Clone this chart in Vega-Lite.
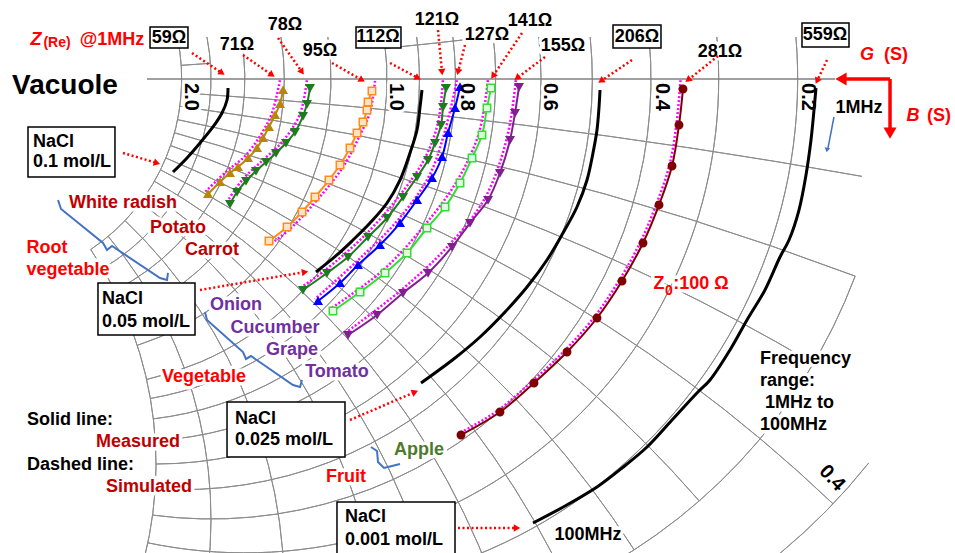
{
"$schema":"https://vega.github.io/schema/vega-lite/v6.json",
"width":955,"height":553,"autosize":{"type":"none"},"padding":0,"background":"white",
"config":{"view":{"stroke":null}},
"resolve":{"scale":{"color":"independent","fill":"independent","stroke":"independent","shape":"independent"}},
"encoding":{
 "x":{"field":"x","type":"quantitative","scale":{"domain":[-0.628247,0.922078],"nice":false,"zero":false},"axis":null},
 "y":{"field":"y","type":"quantitative","scale":{"domain":[-0.769481,0.128247],"nice":false,"zero":false},"axis":null}
},
"datasets":{
 "grid":[
  {"x":-0.090909,"y":0,"r":0.909091,"t1":110.61,"t2":200.98},
  {"x":-0.166667,"y":0,"r":0.833333,"t1":85.31,"t2":196.26},
  {"x":-0.230769,"y":0,"r":0.769231,"t1":84.91,"t2":191.82},
  {"x":-0.285714,"y":0,"r":0.714286,"t1":84.52,"t2":187.63},
  {"x":-0.333333,"y":0,"r":0.666667,"t1":84.13,"t2":183.70},
  {"x":-0.375,"y":0,"r":0.625,"t1":83.74,"t2":180.00},
  {"x":-0.411765,"y":0,"r":0.588235,"t1":83.34,"t2":176.52},
  {"x":-0.444444,"y":0,"r":0.555556,"t1":82.95,"t2":173.27},
  {"x":-0.473684,"y":0,"r":0.526316,"t1":82.55,"t2":170.19},
  {"x":-0.5,"y":0,"r":0.5,"t1":82.16,"t2":167.32},
  {"x":-0.545455,"y":0,"r":0.454545,"t1":81.37,"t2":162.06},
  {"x":-0.583333,"y":0,"r":0.416667,"t1":80.58,"t2":157.38},
  {"x":-0.615385,"y":0,"r":0.384615,"t1":79.79,"t2":153.22},
  {"x":-0.642857,"y":0,"r":0.357143,"t1":78.99,"t2":149.49},
  {"x":-0.666667,"y":0,"r":0.333333,"t1":78.19,"t2":146.13},
  {"x":-1,"y":-10,"r":10,"t1":3.82,"t2":10.20},
  {"x":-1,"y":-5,"r":5,"t1":7.63,"t2":20.61},
  {"x":-1,"y":-3.333333,"r":3.333333,"t1":11.42,"t2":30.51},
  {"x":-1,"y":-2.5,"r":2.5,"t1":15.19,"t2":43.60},
  {"x":-1,"y":-2,"r":2,"t1":18.92,"t2":48.88},
  {"x":-1,"y":-1.666667,"r":1.666667,"t1":22.62,"t2":57.22},
  {"x":-1,"y":-1.428571,"r":1.428571,"t1":26.27,"t2":64.94},
  {"x":-1,"y":-1.25,"r":1.25,"t1":29.86,"t2":72.06},
  {"x":-1,"y":-1.111111,"r":1.111111,"t1":33.40,"t2":78.58},
  {"x":-1,"y":-1,"r":1,"t1":36.87,"t2":84.56},
  {"x":-1,"y":-0.833333,"r":0.833333,"t1":43.60,"t2":94.98},
  {"x":-1,"y":-0.714286,"r":0.714286,"t1":50.04,"t2":103.67},
  {"x":-1,"y":-0.625,"r":0.625,"t1":56.14,"t2":110.98},
  {"x":0,"y":0,"r":1,"t1":128.58,"t2":140.35},
  {"x":-1,"y":10,"r":10,"t1":175.91,"t2":176.18},
  {"x":-1,"y":10,"r":10,"t1":173.27,"t2":174.28}
 ],
 "nacl":[
  {"s":"N1","x":-0.2581,"y":-0.0146},{"s":"N1","x":-0.2597,"y":-0.0341},{"s":"N1","x":-0.2679,"y":-0.0552},{"s":"N1","x":-0.2825,"y":-0.0779},{"s":"N1","x":-0.3036,"y":-0.1039},{"s":"N1","x":-0.3247,"y":-0.1282},{"s":"N1","x":-0.3474,"y":-0.1510},
  {"s":"N2","x":0.0568,"y":-0.0179},{"s":"N2","x":0.0536,"y":-0.0455},{"s":"N2","x":0.0487,"y":-0.0828},{"s":"N2","x":0.0373,"y":-0.1201},{"s":"N2","x":0.0211,"y":-0.1640},{"s":"N2","x":0.0,"y":-0.2013},{"s":"N2","x":-0.0276,"y":-0.2338},{"s":"N2","x":-0.0552,"y":-0.2614},{"s":"N2","x":-0.0812,"y":-0.2857},{"s":"N2","x":-0.1153,"y":-0.3133},
  {"s":"N3","x":0.3458,"y":-0.0179},{"s":"N3","x":0.3442,"y":-0.0455},{"s":"N3","x":0.3409,"y":-0.0828},{"s":"N3","x":0.3344,"y":-0.1201},{"s":"N3","x":0.3247,"y":-0.1640},{"s":"N3","x":0.3084,"y":-0.2078},{"s":"N3","x":0.2857,"y":-0.2500},{"s":"N3","x":0.2597,"y":-0.2938},{"s":"N3","x":0.2273,"y":-0.3377},{"s":"N3","x":0.1916,"y":-0.3782},{"s":"N3","x":0.1510,"y":-0.4188},{"s":"N3","x":0.1104,"y":-0.4529},{"s":"N3","x":0.0552,"y":-0.4935},
  {"s":"N4","x":0.6964,"y":-0.0146},{"s":"N4","x":0.6932,"y":-0.0503},{"s":"N4","x":0.6883,"y":-0.0990},{"s":"N4","x":0.6802,"y":-0.1558},{"s":"N4","x":0.6688,"y":-0.2127},{"s":"N4","x":0.6526,"y":-0.2614},{"s":"N4","x":0.6380,"y":-0.2890},{"s":"N4","x":0.6136,"y":-0.3425},{"s":"N4","x":0.5844,"y":-0.3912},{"s":"N4","x":0.5568,"y":-0.4399},{"s":"N4","x":0.5244,"y":-0.4886},{"s":"N4","x":0.5032,"y":-0.5097},{"s":"N4","x":0.4627,"y":-0.5536},{"s":"N4","x":0.4221,"y":-0.5974},{"s":"N4","x":0.3815,"y":-0.6315},{"s":"N4","x":0.3409,"y":-0.6623},{"s":"N4","x":0.2890,"y":-0.6932},{"s":"N4","x":0.2370,"y":-0.7208}
 ],
 "meas":[
  {"s":"WR","x":-0.1688,"y":-0.0179},{"s":"WR","x":-0.1737,"y":-0.0406},{"s":"WR","x":-0.1818,"y":-0.0584},{"s":"WR","x":-0.1916,"y":-0.0779},{"s":"WR","x":-0.2013,"y":-0.0958},{"s":"WR","x":-0.2110,"y":-0.1120},{"s":"WR","x":-0.2256,"y":-0.1282},{"s":"WR","x":-0.2419,"y":-0.1429},{"s":"WR","x":-0.2549,"y":-0.1526},{"s":"WR","x":-0.2711,"y":-0.1672},{"s":"WR","x":-0.2906,"y":-0.1867},
  {"s":"PO","x":-0.1250,"y":-0.0146},{"s":"PO","x":-0.1299,"y":-0.0406},{"s":"PO","x":-0.1364,"y":-0.0601},{"s":"PO","x":-0.1494,"y":-0.0860},{"s":"PO","x":-0.1640,"y":-0.1039},{"s":"PO","x":-0.1802,"y":-0.1201},{"s":"PO","x":-0.1964,"y":-0.1347},{"s":"PO","x":-0.2127,"y":-0.1494},{"s":"PO","x":-0.2289,"y":-0.1656},{"s":"PO","x":-0.2435,"y":-0.1834},{"s":"PO","x":-0.2549,"y":-0.2029},
  {"s":"CA","x":-0.0244,"y":-0.0195},{"s":"CA","x":-0.0308,"y":-0.0373},{"s":"CA","x":-0.0325,"y":-0.0503},{"s":"CA","x":-0.0390,"y":-0.0698},{"s":"CA","x":-0.0487,"y":-0.0877},{"s":"CA","x":-0.0601,"y":-0.1120},{"s":"CA","x":-0.0763,"y":-0.1396},{"s":"CA","x":-0.0942,"y":-0.1640},{"s":"CA","x":-0.1169,"y":-0.1916},{"s":"CA","x":-0.1380,"y":-0.2159},{"s":"CA","x":-0.1623,"y":-0.2403},{"s":"CA","x":-0.1916,"y":-0.2630},
  {"s":"ON","x":0.0958,"y":-0.0146},{"s":"ON","x":0.0909,"y":-0.0455},{"s":"ON","x":0.0877,"y":-0.0747},{"s":"ON","x":0.0779,"y":-0.1039},{"s":"ON","x":0.0666,"y":-0.1315},{"s":"ON","x":0.0487,"y":-0.1591},{"s":"ON","x":0.0260,"y":-0.1916},{"s":"ON","x":0.0,"y":-0.2256},{"s":"ON","x":-0.0308,"y":-0.2565},{"s":"ON","x":-0.0633,"y":-0.2890},{"s":"ON","x":-0.0974,"y":-0.3149},{"s":"ON","x":-0.1364,"y":-0.3425},
  {"s":"CU","x":0.1185,"y":-0.0130},{"s":"CU","x":0.1104,"y":-0.0471},{"s":"CU","x":0.0990,"y":-0.0877},{"s":"CU","x":0.0893,"y":-0.1266},{"s":"CU","x":0.0731,"y":-0.1607},{"s":"CU","x":0.0487,"y":-0.1964},{"s":"CU","x":0.0211,"y":-0.2338},{"s":"CU","x":-0.0114,"y":-0.2695},{"s":"CU","x":-0.0471,"y":-0.3019},{"s":"CU","x":-0.0763,"y":-0.3312},{"s":"CU","x":-0.1120,"y":-0.3604},
  {"s":"GR","x":0.1688,"y":-0.0146},{"s":"GR","x":0.1623,"y":-0.0471},{"s":"GR","x":0.1542,"y":-0.0909},{"s":"GR","x":0.1380,"y":-0.1282},{"s":"GR","x":0.1185,"y":-0.1688},{"s":"GR","x":0.0942,"y":-0.2078},{"s":"GR","x":0.0649,"y":-0.2419},{"s":"GR","x":0.0325,"y":-0.2825},{"s":"GR","x":-0.0032,"y":-0.3149},{"s":"GR","x":-0.0438,"y":-0.3458},{"s":"GR","x":-0.0877,"y":-0.3766},
  {"s":"TO","x":0.2143,"y":-0.0130},{"s":"TO","x":0.2078,"y":-0.0552},{"s":"TO","x":0.1997,"y":-0.0990},{"s":"TO","x":0.1834,"y":-0.1526},{"s":"TO","x":0.1640,"y":-0.1964},{"s":"TO","x":0.1347,"y":-0.2338},{"s":"TO","x":0.1055,"y":-0.2727},{"s":"TO","x":0.0666,"y":-0.3149},{"s":"TO","x":0.0260,"y":-0.3474},{"s":"TO","x":-0.0162,"y":-0.3831},{"s":"TO","x":-0.0633,"y":-0.4156},
  {"s":"AP","x":0.4805,"y":-0.0162},{"s":"AP","x":0.4740,"y":-0.0747},{"s":"AP","x":0.4627,"y":-0.1412},{"s":"AP","x":0.4416,"y":-0.2045},{"s":"AP","x":0.4156,"y":-0.2662},{"s":"AP","x":0.3815,"y":-0.3279},{"s":"AP","x":0.3409,"y":-0.3880},{"s":"AP","x":0.2922,"y":-0.4432},{"s":"AP","x":0.2386,"y":-0.4935},{"s":"AP","x":0.1834,"y":-0.5406},{"s":"AP","x":0.1201,"y":-0.5779}
 ],
 "sim":[
  {"s":"WR","x":-0.1738,"y":-0.0020},{"s":"WR","x":-0.1868,"y":-0.0554},{"s":"WR","x":-0.2063,"y":-0.0928},{"s":"WR","x":-0.2306,"y":-0.1252},{"s":"WR","x":-0.2599,"y":-0.1496},{"s":"WR","x":-0.2956,"y":-0.1837},
  {"s":"PO","x":-0.1300,"y":-0.0020},{"s":"PO","x":-0.1414,"y":-0.0571},{"s":"PO","x":-0.1690,"y":-0.1009},{"s":"PO","x":-0.2014,"y":-0.1317},{"s":"PO","x":-0.2339,"y":-0.1626},{"s":"PO","x":-0.2599,"y":-0.1999},
  {"s":"CA","x":-0.0194,"y":-0.0030},{"s":"CA","x":-0.0275,"y":-0.0533},{"s":"CA","x":-0.0437,"y":-0.0907},{"s":"CA","x":-0.0713,"y":-0.1426},{"s":"CA","x":-0.1119,"y":-0.1946},{"s":"CA","x":-0.1573,"y":-0.2433},{"s":"CA","x":-0.1866,"y":-0.2660},
  {"s":"ON","x":0.0908,"y":-0.0020},{"s":"ON","x":0.0827,"y":-0.0717},{"s":"ON","x":0.0616,"y":-0.1285},{"s":"ON","x":0.0210,"y":-0.1886},{"s":"ON","x":-0.0358,"y":-0.2535},{"s":"ON","x":-0.1024,"y":-0.3119},{"s":"ON","x":-0.1414,"y":-0.3395},
  {"s":"CU","x":0.1135,"y":-0.0020},{"s":"CU","x":0.0940,"y":-0.0847},{"s":"CU","x":0.0681,"y":-0.1577},{"s":"CU","x":0.0161,"y":-0.2308},{"s":"CU","x":-0.0521,"y":-0.2989},{"s":"CU","x":-0.1170,"y":-0.3574},
  {"s":"GR","x":0.1638,"y":-0.0020},{"s":"GR","x":0.1492,"y":-0.0879},{"s":"GR","x":0.1135,"y":-0.1658},{"s":"GR","x":0.0599,"y":-0.2389},{"s":"GR","x":-0.0082,"y":-0.3119},{"s":"GR","x":-0.0927,"y":-0.3736},
  {"s":"TO","x":0.2093,"y":-0.0020},{"s":"TO","x":0.1947,"y":-0.0960},{"s":"TO","x":0.1590,"y":-0.1934},{"s":"TO","x":0.1005,"y":-0.2697},{"s":"TO","x":0.0210,"y":-0.3444},{"s":"TO","x":-0.0683,"y":-0.4126},
  {"s":"AP","x":0.4765,"y":-0.0020},{"s":"AP","x":0.4700,"y":-0.0727},{"s":"AP","x":0.4587,"y":-0.1392},{"s":"AP","x":0.4376,"y":-0.2025},{"s":"AP","x":0.4116,"y":-0.2642},{"s":"AP","x":0.3775,"y":-0.3259},{"s":"AP","x":0.3369,"y":-0.3860},{"s":"AP","x":0.2882,"y":-0.4412},{"s":"AP","x":0.2346,"y":-0.4915},{"s":"AP","x":0.1794,"y":-0.5386},{"s":"AP","x":0.1161,"y":-0.5759}
 ],
 "lab":[
  {"t":"59Ω","x":-0.3539,"y":0.0666,"c":"k"},{"t":"71Ω","x":-0.2435,"y":0.0552,"c":"k"},{"t":"78Ω","x":-0.1656,"y":0.0877,"c":"k"},{"t":"95Ω","x":-0.1088,"y":0.0455,"c":"k"},{"t":"112Ω","x":-0.0146,"y":0.0682,"c":"k"},{"t":"121Ω","x":0.0812,"y":0.0958,"c":"k"},{"t":"127Ω","x":0.1623,"y":0.0714,"c":"k"},{"t":"141Ω","x":0.2321,"y":0.0942,"c":"k"},{"t":"155Ω","x":0.2857,"y":0.0536,"c":"k"},{"t":"206Ω","x":0.4058,"y":0.0682,"c":"k"},{"t":"281Ω","x":0.5406,"y":0.0438,"c":"k"},{"t":"559Ω","x":0.7110,"y":0.0714,"c":"k"},{"t":"1MHz","x":0.7662,"y":-0.0471,"c":"k"},{"t":"100MHz","x":0.3263,"y":-0.7403,"c":"k"},
  {"t":"White radish","x":-0.4286,"y":-0.2013,"c":"dr"},{"t":"Potato","x":-0.3393,"y":-0.2419,"c":"dr"},{"t":"Carrot","x":-0.2841,"y":-0.2776,"c":"dr"},{"t":"Measured","x":-0.4042,"y":-0.5893,"c":"dr"},{"t":"Simulated","x":-0.3864,"y":-0.6623,"c":"dr"},
  {"t":"Root","x":-0.5519,"y":-0.2744,"c":"r"},{"t":"vegetable","x":-0.5179,"y":-0.3101,"c":"r"},{"t":"Vegetable","x":-0.2971,"y":-0.4838,"c":"r"},{"t":"Fruit","x":-0.0666,"y":-0.6461,"c":"r"},{"t":"@1MHz","x":-0.4464,"y":0.0633,"c":"r"},{"t":"(S)","x":0.8263,"y":0.0390,"c":"r"},{"t":"(S)","x":0.8961,"y":-0.0601,"c":"r"},{"t":"Z","x":0.4416,"y":-0.3328,"c":"r"},{"t":":100 Ω","x":0.5098,"y":-0.3328,"c":"r"},
  {"t":"Onion","x":-0.2451,"y":-0.3669,"c":"p"},{"t":"Cucumber","x":-0.1818,"y":-0.4042,"c":"p"},{"t":"Grape","x":-0.1542,"y":-0.4399,"c":"p"},{"t":"Tomato","x":-0.0812,"y":-0.4756,"c":"p"},
  {"t":"Apple","x":0.0519,"y":-0.6023,"c":"g"}
 ],
 "left":[
  {"t":"NaCl","x":-0.5747,"y":-0.1023},{"t":"0.1 mol/L","x":-0.5747,"y":-0.1347},
  {"t":"NaCl","x":-0.4627,"y":-0.3571},{"t":"0.05 mol/L","x":-0.4627,"y":-0.3945},
  {"t":"NaCl","x":-0.2468,"y":-0.5519},{"t":"0.025 mol/L","x":-0.2468,"y":-0.5860},
  {"t":"NaCl","x":-0.0682,"y":-0.7110},{"t":"0.001 mol/L","x":-0.0682,"y":-0.7484},
  {"t":"Solid line:","x":-0.5844,"y":-0.5536},{"t":"Dashed line:","x":-0.5844,"y":-0.6266},
  {"t":"Frequency","x":0.6055,"y":-0.4545},{"t":"range:","x":0.6055,"y":-0.4903},{"t":"1MHz to","x":0.6136,"y":-0.5260},{"t":"100MHz","x":0.6055,"y":-0.5617}
 ],
 "ital":[{"t":"Z","x":-0.5698,"y":0.0633},{"t":"G","x":0.7792,"y":0.0390},{"t":"B","x":0.8539,"y":-0.0601}],
 "small":[{"t":"(Re)","x":-0.5357,"y":0.0584},{"t":"0","x":0.4578,"y":-0.3442}],
 "vac":[{"t":"Vacuole","x":-0.5227,"y":-0.0114}],
 "rot":[{"t":"2.0","x":-0.3182,"y":-0.0065},{"t":"1.0","x":0.0146,"y":-0.0065},{"t":"0.8","x":0.1299,"y":-0.0065},{"t":"0.6","x":0.2646,"y":-0.0065},{"t":"0.4","x":0.4464,"y":-0.0065},{"t":"0.2","x":0.6834,"y":-0.0065}],
 "rot2":[{"t":"0.4","x":0.7224,"y":-0.6477}],
 "boxes":[
  {"x":-0.3847,"x2":-0.3231,"y":0.0844,"y2":0.0503},
  {"x":-0.0503,"x2":0.0227,"y":0.0844,"y2":0.0503},
  {"x":0.3669,"x2":0.4448,"y":0.0877,"y2":0.0503},
  {"x":0.6737,"x2":0.7500,"y":0.0909,"y2":0.0519},
  {"x":-0.5828,"x2":-0.4416,"y":-0.0779,"y2":-0.1591},
  {"x":-0.4692,"x2":-0.3117,"y":-0.3312,"y2":-0.4156},
  {"x":-0.2597,"x2":-0.0682,"y":-0.5244,"y2":-0.6136},
  {"x":-0.0812,"x2":0.1104,"y":-0.6867,"y2":-0.7808}
 ],
 "arrows":[
  {"x":-0.3166,"y":0.0422,"x2":-0.2679,"y2":0.0097},
  {"x":-0.2338,"y":0.0390,"x2":-0.1867,"y2":0.0065},
  {"x":-0.1769,"y":0.0666,"x2":-0.1380,"y2":0.0114},
  {"x":-0.0893,"y":0.0260,"x2":-0.0406,"y2":-0.0016},
  {"x":0.0049,"y":0.0260,"x2":0.0503,"y2":0.0016},
  {"x":0.0828,"y":0.0795,"x2":0.0893,"y2":0.0114},
  {"x":0.1266,"y":0.0552,"x2":0.1153,"y2":0.0114},
  {"x":0.2192,"y":0.0747,"x2":0.1721,"y2":0.0049},
  {"x":0.2565,"y":0.0357,"x2":0.2110,"y2":0.0016},
  {"x":0.3977,"y":0.0308,"x2":0.3474,"y2":-0.0032},
  {"x":0.5373,"y":0.0373,"x2":0.4886,"y2":-0.0016},
  {"x":0.7143,"y":0.0308,"x2":0.6981,"y2":-0.0032},
  {"x":-0.4286,"y":-0.1201,"x2":-0.3734,"y2":-0.1364},
  {"x":-0.3036,"y":-0.3425,"x2":-0.1331,"y2":-0.3133},
  {"x":-0.0601,"y":-0.5536,"x2":0.0455,"y2":-0.5081},
  {"x":0.1153,"y":-0.7289,"x2":0.2110,"y2":-0.7289}
 ],
 "heads":[
  {"x":-0.2679,"y":0.0097,"a":123.7},{"x":-0.1867,"y":0.0065,"a":124.6},{"x":-0.1380,"y":0.0114,"a":144.8},{"x":-0.0406,"y":-0.0016,"a":119.5},{"x":0.0503,"y":0.0016,"a":118.2},{"x":0.0893,"y":0.0114,"a":174.6},{"x":0.1153,"y":0.0114,"a":194.0},{"x":0.1721,"y":0.0049,"a":214.0},{"x":0.2110,"y":0.0016,"a":233.1},{"x":0.3474,"y":-0.0032,"a":235.9},{"x":0.4886,"y":-0.0016,"a":231.3},{"x":0.6981,"y":-0.0032,"a":205.5},{"x":-0.3734,"y":-0.1364,"a":106.4},{"x":-0.1331,"y":-0.3133,"a":80.3},{"x":0.0455,"y":-0.5081,"a":66.7},{"x":0.2110,"y":-0.7289,"a":90}
 ],
 "braces":[
  {"b":1,"x":-0.5341,"y":-0.1964},{"b":1,"x":-0.5292,"y":-0.2110},{"b":1,"x":-0.4610,"y":-0.2662},{"b":1,"x":-0.4545,"y":-0.2776},{"b":1,"x":-0.4464,"y":-0.2711},{"b":1,"x":-0.3685,"y":-0.3231},{"b":1,"x":-0.3571,"y":-0.3263},{"b":1,"x":-0.3555,"y":-0.3149},
  {"b":2,"x":-0.2955,"y":-0.3782},{"b":2,"x":-0.2922,"y":-0.3912},{"b":2,"x":-0.2338,"y":-0.4432},{"b":2,"x":-0.2289,"y":-0.4545},{"b":2,"x":-0.2208,"y":-0.4497},{"b":2,"x":-0.1526,"y":-0.4968},{"b":2,"x":-0.1412,"y":-0.5000},{"b":2,"x":-0.1380,"y":-0.4886},
  {"b":3,"x":-0.0260,"y":-0.5974},{"b":3,"x":-0.0162,"y":-0.6039},{"b":3,"x":-0.0146,"y":-0.6218},{"b":3,"x":-0.0049,"y":-0.6315},{"b":3,"x":0.0081,"y":-0.6282},{"b":3,"x":0.0211,"y":-0.6250}
 ]
},
"layer":[
 {"data":{"name":"grid"},"mark":{"type":"arc","filled":false,"stroke":"#8c8c8c","strokeWidth":1,"clip":true},
  "encoding":{
   "radius":{"field":"r","type":"quantitative","scale":{"type":"linear","domain":[0,1],"range":[0,616],"zero":true}},
   "radius2":{"field":"r"},
   "theta":{"field":"t1","type":"quantitative","stack":null,"scale":{"type":"linear","domain":[0,360],"range":[0,6.283185307]}},
   "theta2":{"field":"t2"}}},
 {"data":{"values":[{"x":-0.3896,"y":0,"x2":0.7273}]},"mark":{"type":"rule","stroke":"#808080","strokeWidth":1.5},"encoding":{"x2":{"field":"x2"}}},
 {"data":{"name":"lab"},"mark":{"type":"text","font":"Liberation Sans","fontWeight":"bold","fontSize":18,"align":"center","baseline":"middle","fill":"white","stroke":"white","strokeWidth":7,"strokeJoin":"round"},"encoding":{"text":{"field":"t"}}},
 {"data":{"name":"left"},"mark":{"type":"text","font":"Liberation Sans","fontWeight":"bold","fontSize":18,"align":"left","baseline":"middle","fill":"white","stroke":"white","strokeWidth":7,"strokeJoin":"round"},"encoding":{"text":{"field":"t"}}},
 {"data":{"name":"rot"},"mark":{"type":"text","font":"Liberation Sans","fontWeight":"bold","fontSize":20,"angle":90,"align":"left","baseline":"middle","fill":"white","stroke":"white","strokeWidth":6,"strokeJoin":"round"},"encoding":{"text":{"field":"t"}}},
 {"data":{"name":"rot2"},"mark":{"type":"text","font":"Liberation Sans","fontWeight":"bold","fontSize":20,"angle":47,"align":"center","baseline":"middle","fill":"white","stroke":"white","strokeWidth":6,"strokeJoin":"round"},"encoding":{"text":{"field":"t"}}},
 {"data":{"name":"vac"},"mark":{"type":"text","font":"Liberation Sans","fontWeight":"bold","fontSize":28,"align":"center","baseline":"middle","fill":"white","stroke":"white","strokeWidth":7,"strokeJoin":"round"},"encoding":{"text":{"field":"t"}}},
 {"data":{"name":"boxes"},"mark":{"type":"rect","fill":"white","stroke":"black","strokeWidth":1.5,"clip":true},"encoding":{"x2":{"field":"x2"},"y2":{"field":"y2"}}},
 {"data":{"name":"sim"},"mark":{"type":"line","color":"#FF00FF","strokeWidth":2.5,"strokeDash":[2,2],"interpolate":"catmull-rom"},"encoding":{"detail":{"field":"s"},"order":{"value":null}}},
 {"data":{"name":"nacl"},"mark":{"type":"line","color":"#000000","strokeWidth":3,"interpolate":"catmull-rom"},"encoding":{"detail":{"field":"s"},"order":{"value":null}}},
 {"data":{"name":"meas"},"mark":{"type":"line","strokeWidth":2,"interpolate":"catmull-rom"},
  "encoding":{"color":{"field":"s","type":"nominal","legend":null,"scale":{"domain":["WR","PO","CA","ON","CU","GR","TO","AP"],"range":["#B8860B","#1E7B1E","#FF8C1A","#1E7B1E","#0000FF","#33DD33","#80208F","#7F0000"]}},"order":{"value":null}}},
 {"data":{"name":"meas"},"mark":{"type":"point","filled":true,"size":55,"strokeWidth":1.5,"opacity":1},
  "encoding":{
   "shape":{"field":"s","type":"nominal","legend":null,"scale":{"domain":["WR","PO","CA","ON","CU","GR","TO","AP"],"range":["triangle-up","triangle-down","square","triangle-down","triangle-up","square","triangle-down","circle"]}},
   "fill":{"field":"s","type":"nominal","legend":null,"scale":{"domain":["WR","PO","CA","ON","CU","GR","TO","AP"],"range":["#B8860B","#1E7B1E","#FFE4C4","#1E7B1E","#0000FF","#DDFFDD","#80208F","#7F0000"]}},
   "stroke":{"field":"s","type":"nominal","legend":null,"scale":{"domain":["WR","PO","CA","ON","CU","GR","TO","AP"],"range":["#B8860B","#1E7B1E","#FF8C1A","#1E7B1E","#0000FF","#33DD33","#80208F","#7F0000"]}}}},
 {"data":{"name":"braces"},"mark":{"type":"line","color":"#4472C4","strokeWidth":2},"encoding":{"detail":{"field":"b"},"order":{"value":null}}},
 {"data":{"name":"arrows"},"mark":{"type":"rule","color":"#FF0000","strokeWidth":2.5,"strokeDash":[2,2.5]},"encoding":{"x2":{"field":"x2"},"y2":{"field":"y2"}}},
 {"data":{"name":"heads"},"mark":{"type":"point","shape":"triangle-up","filled":true,"color":"#FF0000","size":55,"opacity":1},"encoding":{"angle":{"field":"a","type":"quantitative","scale":null}}},
 {"data":{"values":[{"x":0.8166,"y":0,"x2":0.7370,"y2":0},{"x":0.8166,"y":0,"x2":0.8166,"y2":-0.0877}]},"mark":{"type":"rule","color":"#FF0000","strokeWidth":3.5},"encoding":{"x2":{"field":"x2"},"y2":{"field":"y2"}}},
 {"data":{"values":[{"x":0.7370,"y":0,"a":270},{"x":0.8166,"y":-0.0877,"a":180}]},"mark":{"type":"point","shape":"triangle-up","filled":true,"color":"#FF0000","size":170,"opacity":1},"encoding":{"angle":{"field":"a","type":"quantitative","scale":null}}},
 {"data":{"values":[{"x":0.7256,"y":-0.0617,"x2":0.7159,"y2":-0.1120}]},"mark":{"type":"rule","color":"#4472C4","strokeWidth":1.5},"encoding":{"x2":{"field":"x2"},"y2":{"field":"y2"}}},
 {"data":{"values":[{"x":0.7143,"y":-0.1153,"a":191}]},"mark":{"type":"point","shape":"triangle-up","filled":true,"color":"#4472C4","size":30,"opacity":1},"encoding":{"angle":{"field":"a","type":"quantitative","scale":null}}},
 {"data":{"name":"lab"},"mark":{"type":"text","font":"Liberation Sans","fontWeight":"bold","fontSize":18,"align":"center","baseline":"middle"},
  "encoding":{"text":{"field":"t"},"color":{"field":"c","type":"nominal","legend":null,"scale":{"domain":["k","dr","r","p","g"],"range":["#000000","#C00000","#FF0000","#7030A0","#4E7A2C"]}}}},
 {"data":{"name":"left"},"mark":{"type":"text","font":"Liberation Sans","fontWeight":"bold","fontSize":18,"align":"left","baseline":"middle","color":"#000000"},"encoding":{"text":{"field":"t"}}},
 {"data":{"name":"ital"},"mark":{"type":"text","font":"Liberation Sans","fontWeight":"bold","fontStyle":"italic","fontSize":18,"align":"center","baseline":"middle","color":"#FF0000"},"encoding":{"text":{"field":"t"}}},
 {"data":{"name":"small"},"mark":{"type":"text","font":"Liberation Sans","fontWeight":"bold","fontSize":14,"align":"center","baseline":"middle","color":"#FF0000"},"encoding":{"text":{"field":"t"}}},
 {"data":{"name":"vac"},"mark":{"type":"text","font":"Liberation Sans","fontWeight":"bold","fontSize":28,"align":"center","baseline":"middle","color":"#000000"},"encoding":{"text":{"field":"t"}}},
 {"data":{"name":"rot"},"mark":{"type":"text","font":"Liberation Sans","fontWeight":"bold","fontSize":20,"angle":90,"align":"left","baseline":"middle","color":"#000000"},"encoding":{"text":{"field":"t"}}},
 {"data":{"name":"rot2"},"mark":{"type":"text","font":"Liberation Sans","fontWeight":"bold","fontSize":20,"angle":47,"align":"center","baseline":"middle","color":"#000000"},"encoding":{"text":{"field":"t"}}}
]
}
